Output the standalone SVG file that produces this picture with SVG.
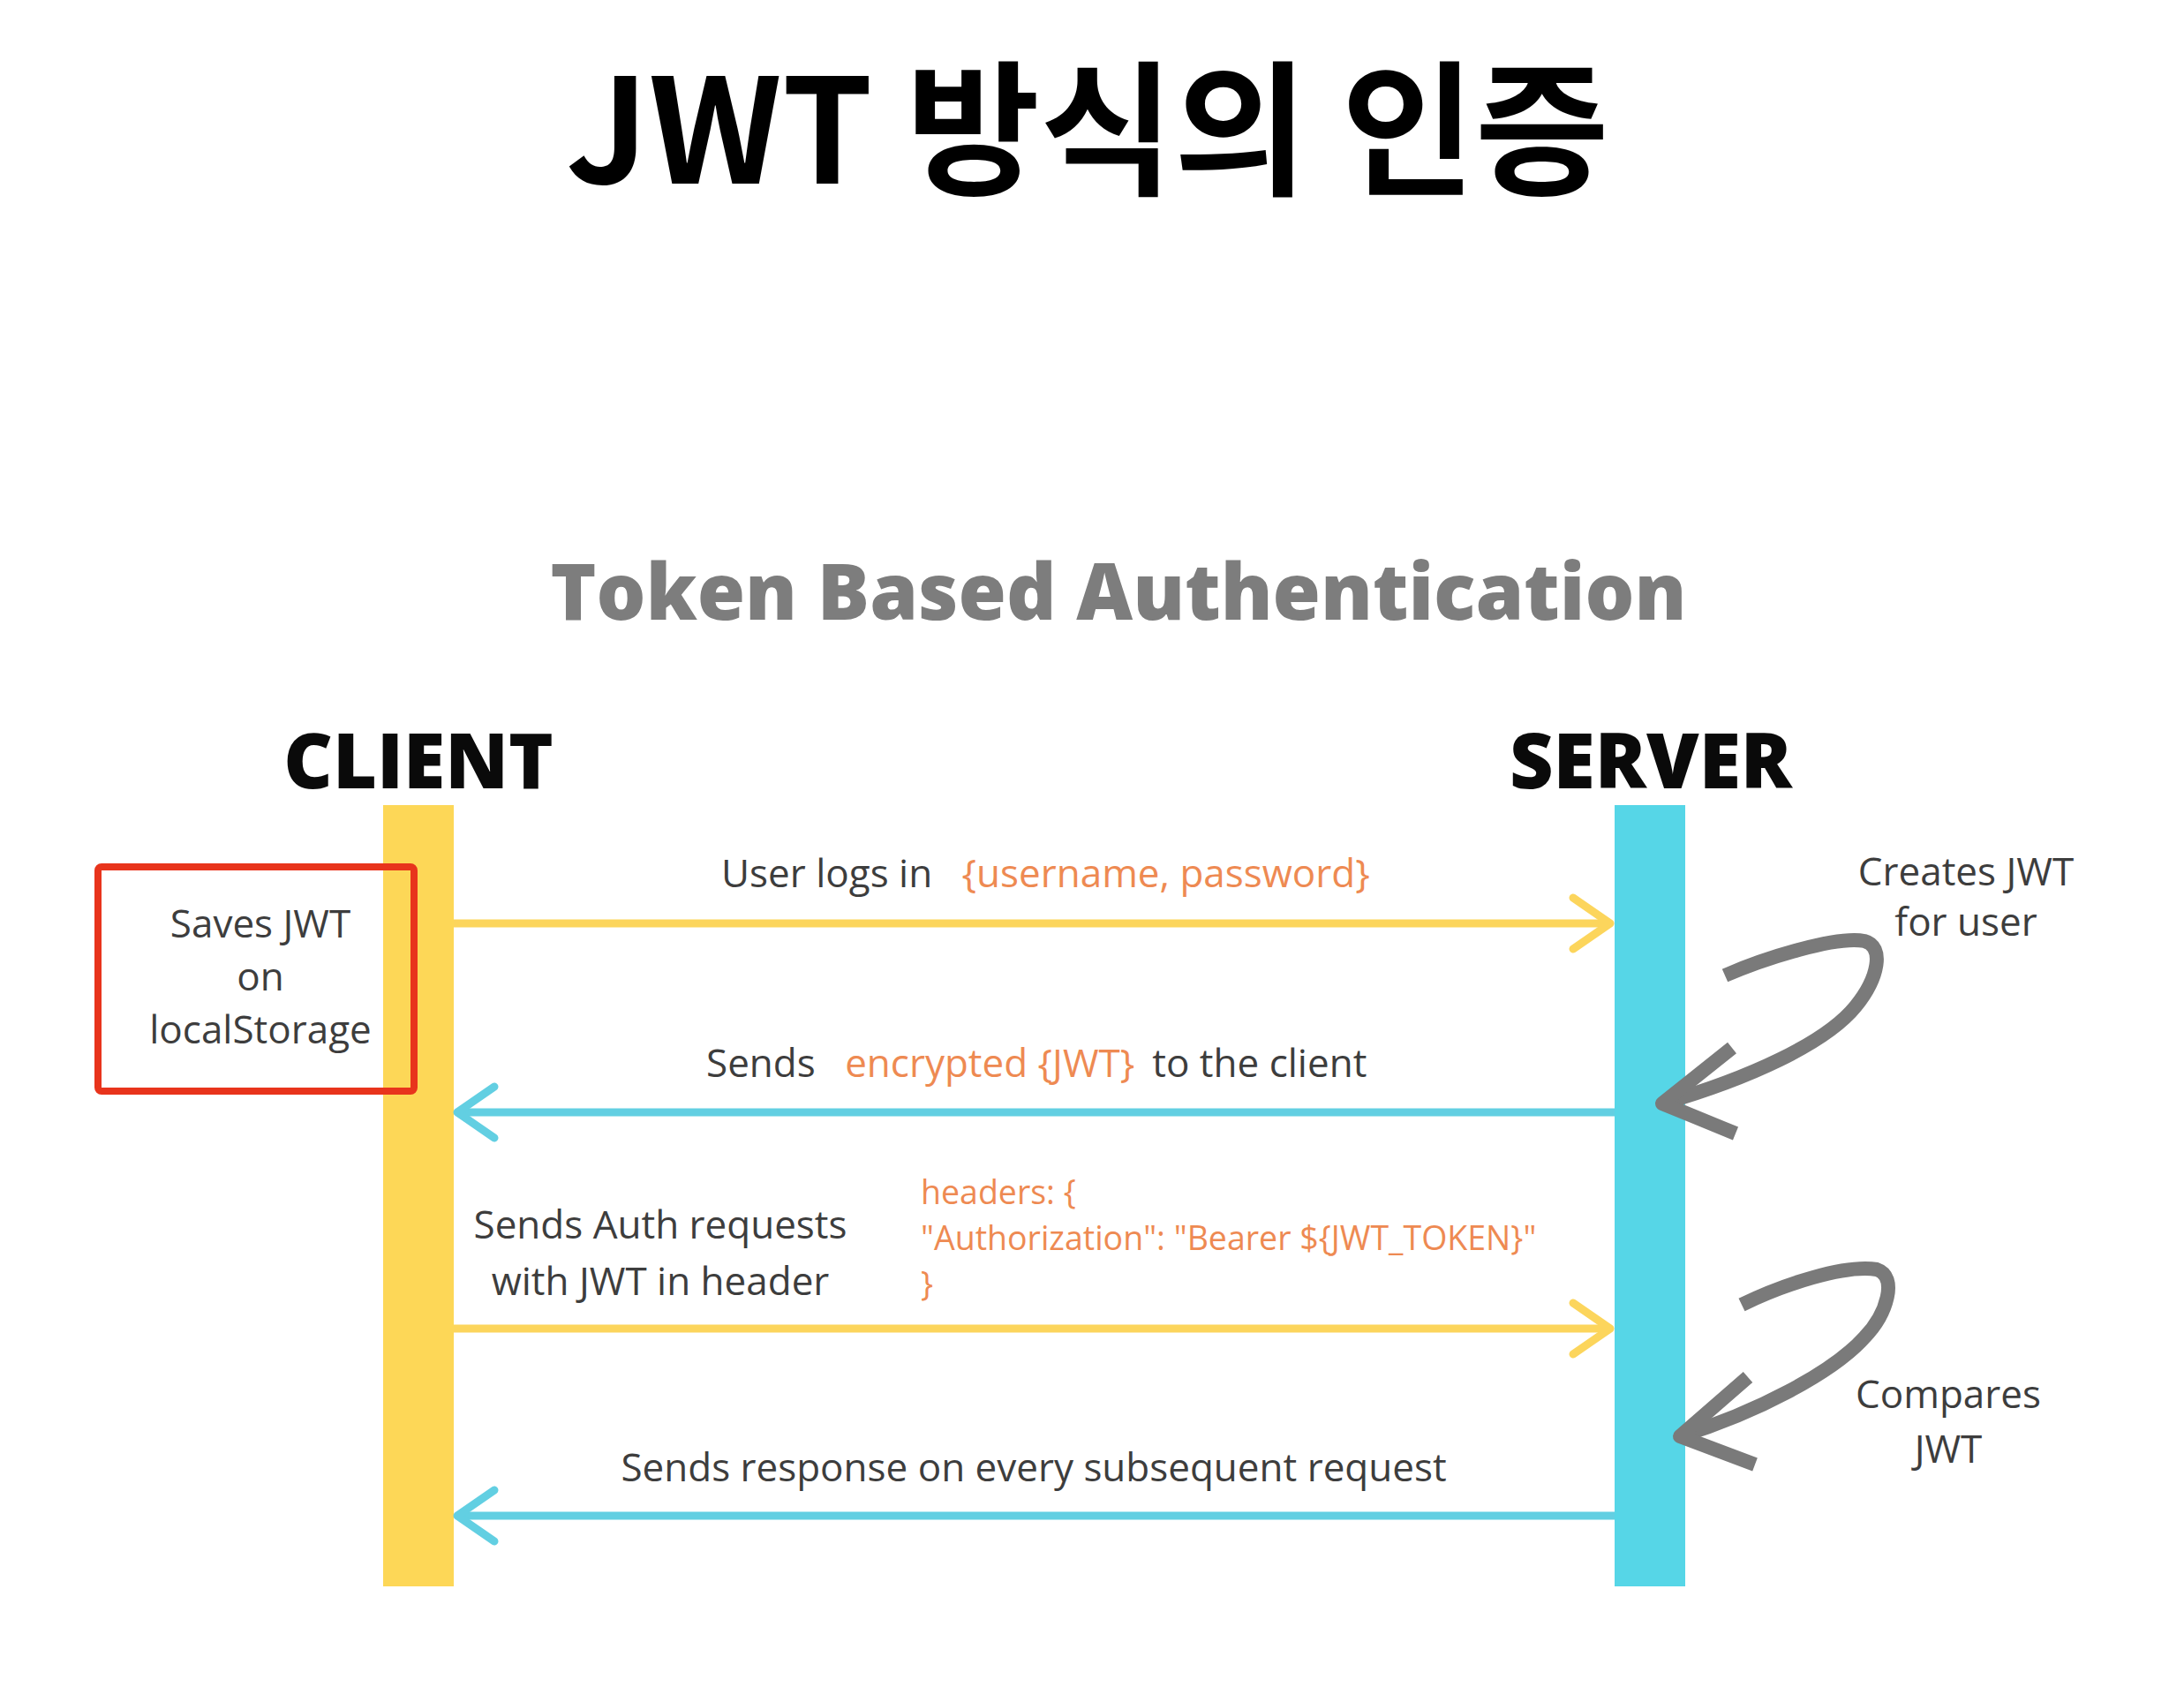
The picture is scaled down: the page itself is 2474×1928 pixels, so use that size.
<svg xmlns="http://www.w3.org/2000/svg" width="2474" height="1928" viewBox="0 0 2474 1928">
<style>
.t{font-family:"Open Sans","Noto Sans",sans-serif;fill:#3d3d3d;font-size:44px}
.o{fill:#EE8A52}
.code{font-family:"Open Sans","Noto Sans",sans-serif;fill:#EE8A52;font-size:37.5px}
.hd{font-family:"Open Sans","Noto Sans",sans-serif;font-weight:800;font-size:86px;fill:#0a0a0a}
.ly{stroke:#FCD55C;stroke-width:9;fill:none}
.lc{stroke:#62CFE2;stroke-width:9;fill:none}
.curl{stroke:#7a7a7a;stroke-width:16;fill:none;stroke-linejoin:round}
</style>
<defs>
<marker id="ay" markerUnits="userSpaceOnUse" markerWidth="80" markerHeight="90" viewBox="-60 -45 80 90" refX="0" refY="0" orient="auto">
<path d="M-42,-29 L0,0 L-42,29" fill="none" stroke="#FCD55C" stroke-width="9" stroke-linejoin="round" stroke-linecap="round"/>
</marker>
<marker id="ac" markerUnits="userSpaceOnUse" markerWidth="80" markerHeight="90" viewBox="-60 -45 80 90" refX="0" refY="0" orient="auto">
<path d="M-42,-29 L0,0 L-42,29" fill="none" stroke="#62CFE2" stroke-width="9" stroke-linejoin="round" stroke-linecap="round"/>
</marker>
</defs>
<rect width="2474" height="1928" fill="#ffffff"/>
<text x="641" y="208" font-family="'Noto Sans CJK KR','Noto Sans',sans-serif" font-weight="700" font-size="165" fill="#000">JWT 방식의 인증</text>
<text x="1267" y="702" text-anchor="middle" font-family="'Open Sans','Noto Sans',sans-serif" font-weight="800" font-size="88" fill="#7d7d7d">Token Based Authentication</text>

<g id="client">
<text class="hd" x="474" y="893" text-anchor="middle">CLIENT</text>
<rect x="434" y="912" width="80" height="885" fill="#FDD757"/>
</g>
<g id="server">
<text class="hd" x="1870" y="893" text-anchor="middle">SERVER</text>
<rect x="1829" y="912" width="80" height="885" fill="#56D6E7"/>
</g>
<g id="save-note">
<rect x="111" y="982" width="358" height="254" rx="4" fill="none" stroke="#E8341C" stroke-width="8"/>
<text class="t" x="295" y="1062" text-anchor="middle">Saves JWT</text>
<text class="t" x="295" y="1122" text-anchor="middle">on</text>
<text class="t" x="295" y="1182" text-anchor="middle">localStorage</text>
</g>
<g id="create-note">
<text class="t" x="2227" y="1003" text-anchor="middle">Creates JWT</text>
<text class="t" x="2227" y="1060" text-anchor="middle">for user</text>
</g>
<g id="compare-note">
<text class="t" x="2207" y="1595" text-anchor="middle">Compares</text>
<text class="t" x="2207" y="1657" text-anchor="middle">JWT</text>
</g>

<g id="connectors">
<line class="ly" x1="514" y1="1046" x2="1824" y2="1046" marker-end="url(#ay)"/>
<line class="lc" x1="1829" y1="1260" x2="518" y2="1260" marker-end="url(#ac)"/>
<line class="ly" x1="514" y1="1505" x2="1824" y2="1505" marker-end="url(#ay)"/>
<line class="lc" x1="1829" y1="1717" x2="518" y2="1717" marker-end="url(#ac)"/>
<path class="curl" d="M1954,1105 C2000,1085 2080,1060 2112,1066 C2135,1072 2128,1108 2102,1140 C2068,1182 1980,1222 1883,1250"/>
<path class="curl" d="M1962,1187 L1883,1250 L1966,1284"/>
<path class="curl" d="M1973,1478 C2020,1455 2090,1432 2126,1438 C2150,1446 2138,1488 2112,1515 C2076,1555 1990,1600 1903,1627"/>
<path class="curl" d="M1980,1560 L1903,1627 L1988,1659"/>
</g>

<g id="labels">
<text class="t" x="817" y="1005">User logs in <tspan class="o" dx="22">{username, password}</tspan></text>
<text class="t" x="800" y="1220">Sends <tspan class="o" dx="22">encrypted {JWT}</tspan><tspan dx="20">to the client</tspan></text>
<text class="t" x="748" y="1403" text-anchor="middle">Sends Auth requests</text>
<text class="t" x="748" y="1467" text-anchor="middle">with JWT in header</text>
<text class="code" x="1043" y="1364">headers: {</text>
<text class="code" x="1043" y="1416">"Authorization": "Bearer ${JWT_TOKEN}"</text>
<text class="code" x="1043" y="1468">}</text>
<text class="t" x="1171" y="1678" text-anchor="middle">Sends response on every subsequent request</text>
</g>
</svg>
